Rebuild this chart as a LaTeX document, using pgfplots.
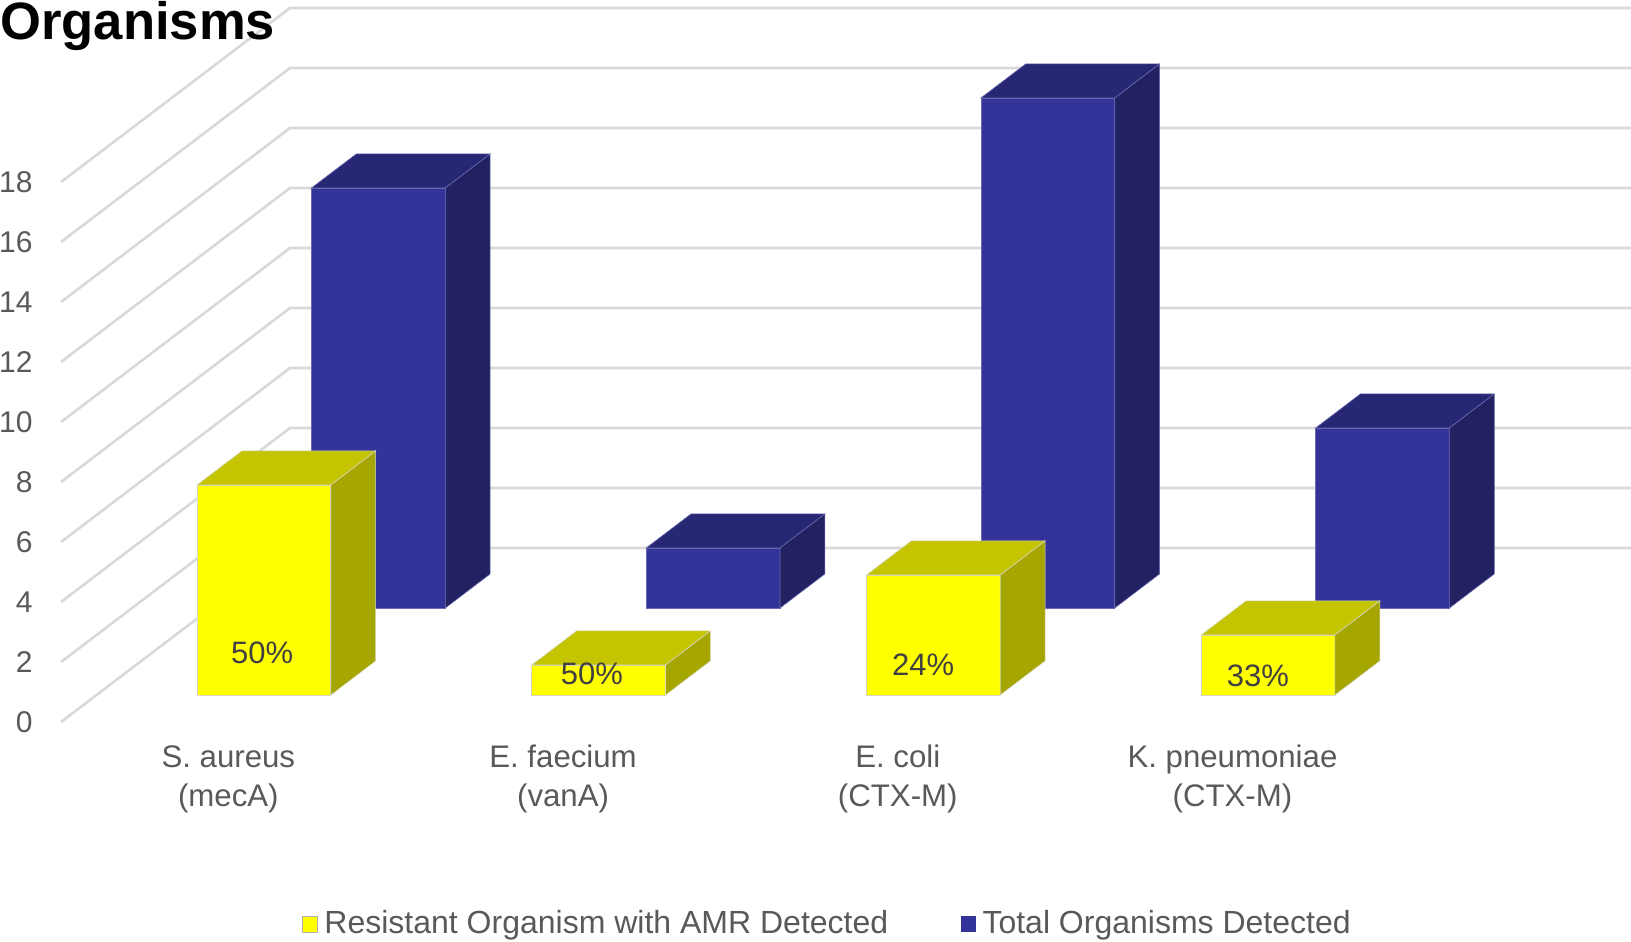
\documentclass[border=0pt]{standalone}
\usepackage{pgfplots}
\pgfplotsset{compat=1.18}
\usepackage{fontspec}
\setmainfont{Liberation Sans}
\definecolor{Yfront}{HTML}{FFFF00}
\definecolor{Ytop}{HTML}{C4C400}
\definecolor{Yside}{HTML}{A6A600}
\definecolor{Yedge}{HTML}{D8D8C0}
\definecolor{Bfront}{HTML}{333399}
\definecolor{Btop}{HTML}{272774}
\definecolor{Bside}{HTML}{222262}
\definecolor{Bedge}{HTML}{6A6AB0}
\definecolor{gridc}{HTML}{D9D9D9}
\definecolor{txt}{HTML}{595959}
\definecolor{lbl}{HTML}{404040}
% \cuboid{x0}{x1}{depth0}{depth1}{value}{colour prefix}
\newcommand{\cuboid}[6]{%
  \addplot3[fill=#6front, draw=#6edge, line width=0.3pt] coordinates {(#1,#3,0) (#2,#3,0) (#2,#3,#5) (#1,#3,#5)} -- cycle;
  \addplot3[fill=#6top, draw=#6edge, line width=0.3pt] coordinates {(#1,#3,#5) (#2,#3,#5) (#2,#4,#5) (#1,#4,#5)} -- cycle;
  \addplot3[fill=#6side, draw=#6edge, line width=0.3pt] coordinates {(#2,#3,0) (#2,#4,0) (#2,#4,#5) (#2,#3,#5)} -- cycle;
}
\begin{document}
\begin{tikzpicture}
\begin{axis}[
  x={(167.35pt,0pt)}, y={(114.5pt,87pt)}, z={(0pt,15pt)},
  hide axis, clip=false,
  xmin=-0.2, xmax=4.7, ymin=0, ymax=1, zmin=-7.3, zmax=24.07,
]
% walls: gridlines
\pgfplotsinvokeforeach{0,2,...,18}{
  \addplot3[gridc, line width=1.3pt] coordinates {(0,0,#1) (0,1,#1) (4.01,1,#1)};
  \node[anchor=east, text=txt, font=\fontsize{15pt}{17pt}\selectfont, inner sep=0pt, xshift=-14pt] at (axis cs:0,0,#1) {#1};
}
% Total Organisms Detected (back row)
\cuboid{0.3}{0.7}{0.655}{0.851}{14}{B}
\cuboid{1.3}{1.7}{0.655}{0.851}{2}{B}
\cuboid{2.3}{2.7}{0.655}{0.851}{17}{B}
\cuboid{3.3}{3.7}{0.655}{0.851}{6}{B}
% Resistant Organism with AMR Detected (front row)
\cuboid{0.3}{0.7}{0.155}{0.351}{7}{Y}
\cuboid{1.3}{1.7}{0.155}{0.351}{1}{Y}
\cuboid{2.3}{2.7}{0.155}{0.351}{4}{Y}
\cuboid{3.3}{3.7}{0.155}{0.351}{2}{Y}
% percentage labels
\begin{scope}[every node/.style={text=lbl, font=\fontsize{15.5pt}{18pt}\selectfont, inner sep=0pt}]
\node at (axis cs:0.495,0.155,1.4) {50\%};
\node at (axis cs:1.48,0.155,0.7) {50\%};
\node at (axis cs:2.47,0.155,1.0) {24\%};
\node at (axis cs:3.47,0.155,0.63) {33\%};
\end{scope}
% category labels
\begin{scope}[every node/.style={text=txt, font=\fontsize{15.6pt}{18pt}\selectfont, inner sep=0pt, anchor=base}]
\node at (axis cs:0.5,0,-1.533) {S. aureus};
\node at (axis cs:0.5,0,-2.833) {(mecA)};
\node at (axis cs:1.5,0,-1.533) {E. faecium};
\node at (axis cs:1.5,0,-2.833) {(vanA)};
\node at (axis cs:2.5,0,-1.533) {E. coli};
\node at (axis cs:2.5,0,-2.833) {(CTX-M)};
\node at (axis cs:3.5,0,-1.533) {K. pneumoniae};
\node at (axis cs:3.5,0,-2.833) {(CTX-M)};
\end{scope}
% legend
\fill[Yfront, draw=gray!60, line width=0.3pt] (axis cs:0.72,0,-7.0) rectangle ++(7.5pt,8pt);
\node[anchor=base west, inner sep=0pt, text=txt, font=\fontsize{16pt}{18pt}\selectfont] at (axis cs:0.786,0,-7.033) {Resistant Organism with AMR Detected};
\fill[Bfront] (axis cs:2.689,0,-7.0) rectangle ++(7.5pt,8pt);
\node[anchor=base west, inner sep=0pt, text=txt, font=\fontsize{16pt}{18pt}\selectfont] at (axis cs:2.752,0,-7.033) {Total Organisms Detected};
% title (cut off at top as in the original)
\node[anchor=base west, inner sep=0pt, font=\fontsize{26.3pt}{30pt}\selectfont\bfseries] at (axis cs:-0.18226,0,22.733) {Organisms};
\coordinate (bl) at (axis cs:-0.18226,0,-7.3);
\coordinate (tr) at (axis cs:4.6907,0,24.0667);
\end{axis}
\pgfresetboundingbox
\path[use as bounding box] (bl) rectangle (tr);
\end{tikzpicture}
\end{document}
